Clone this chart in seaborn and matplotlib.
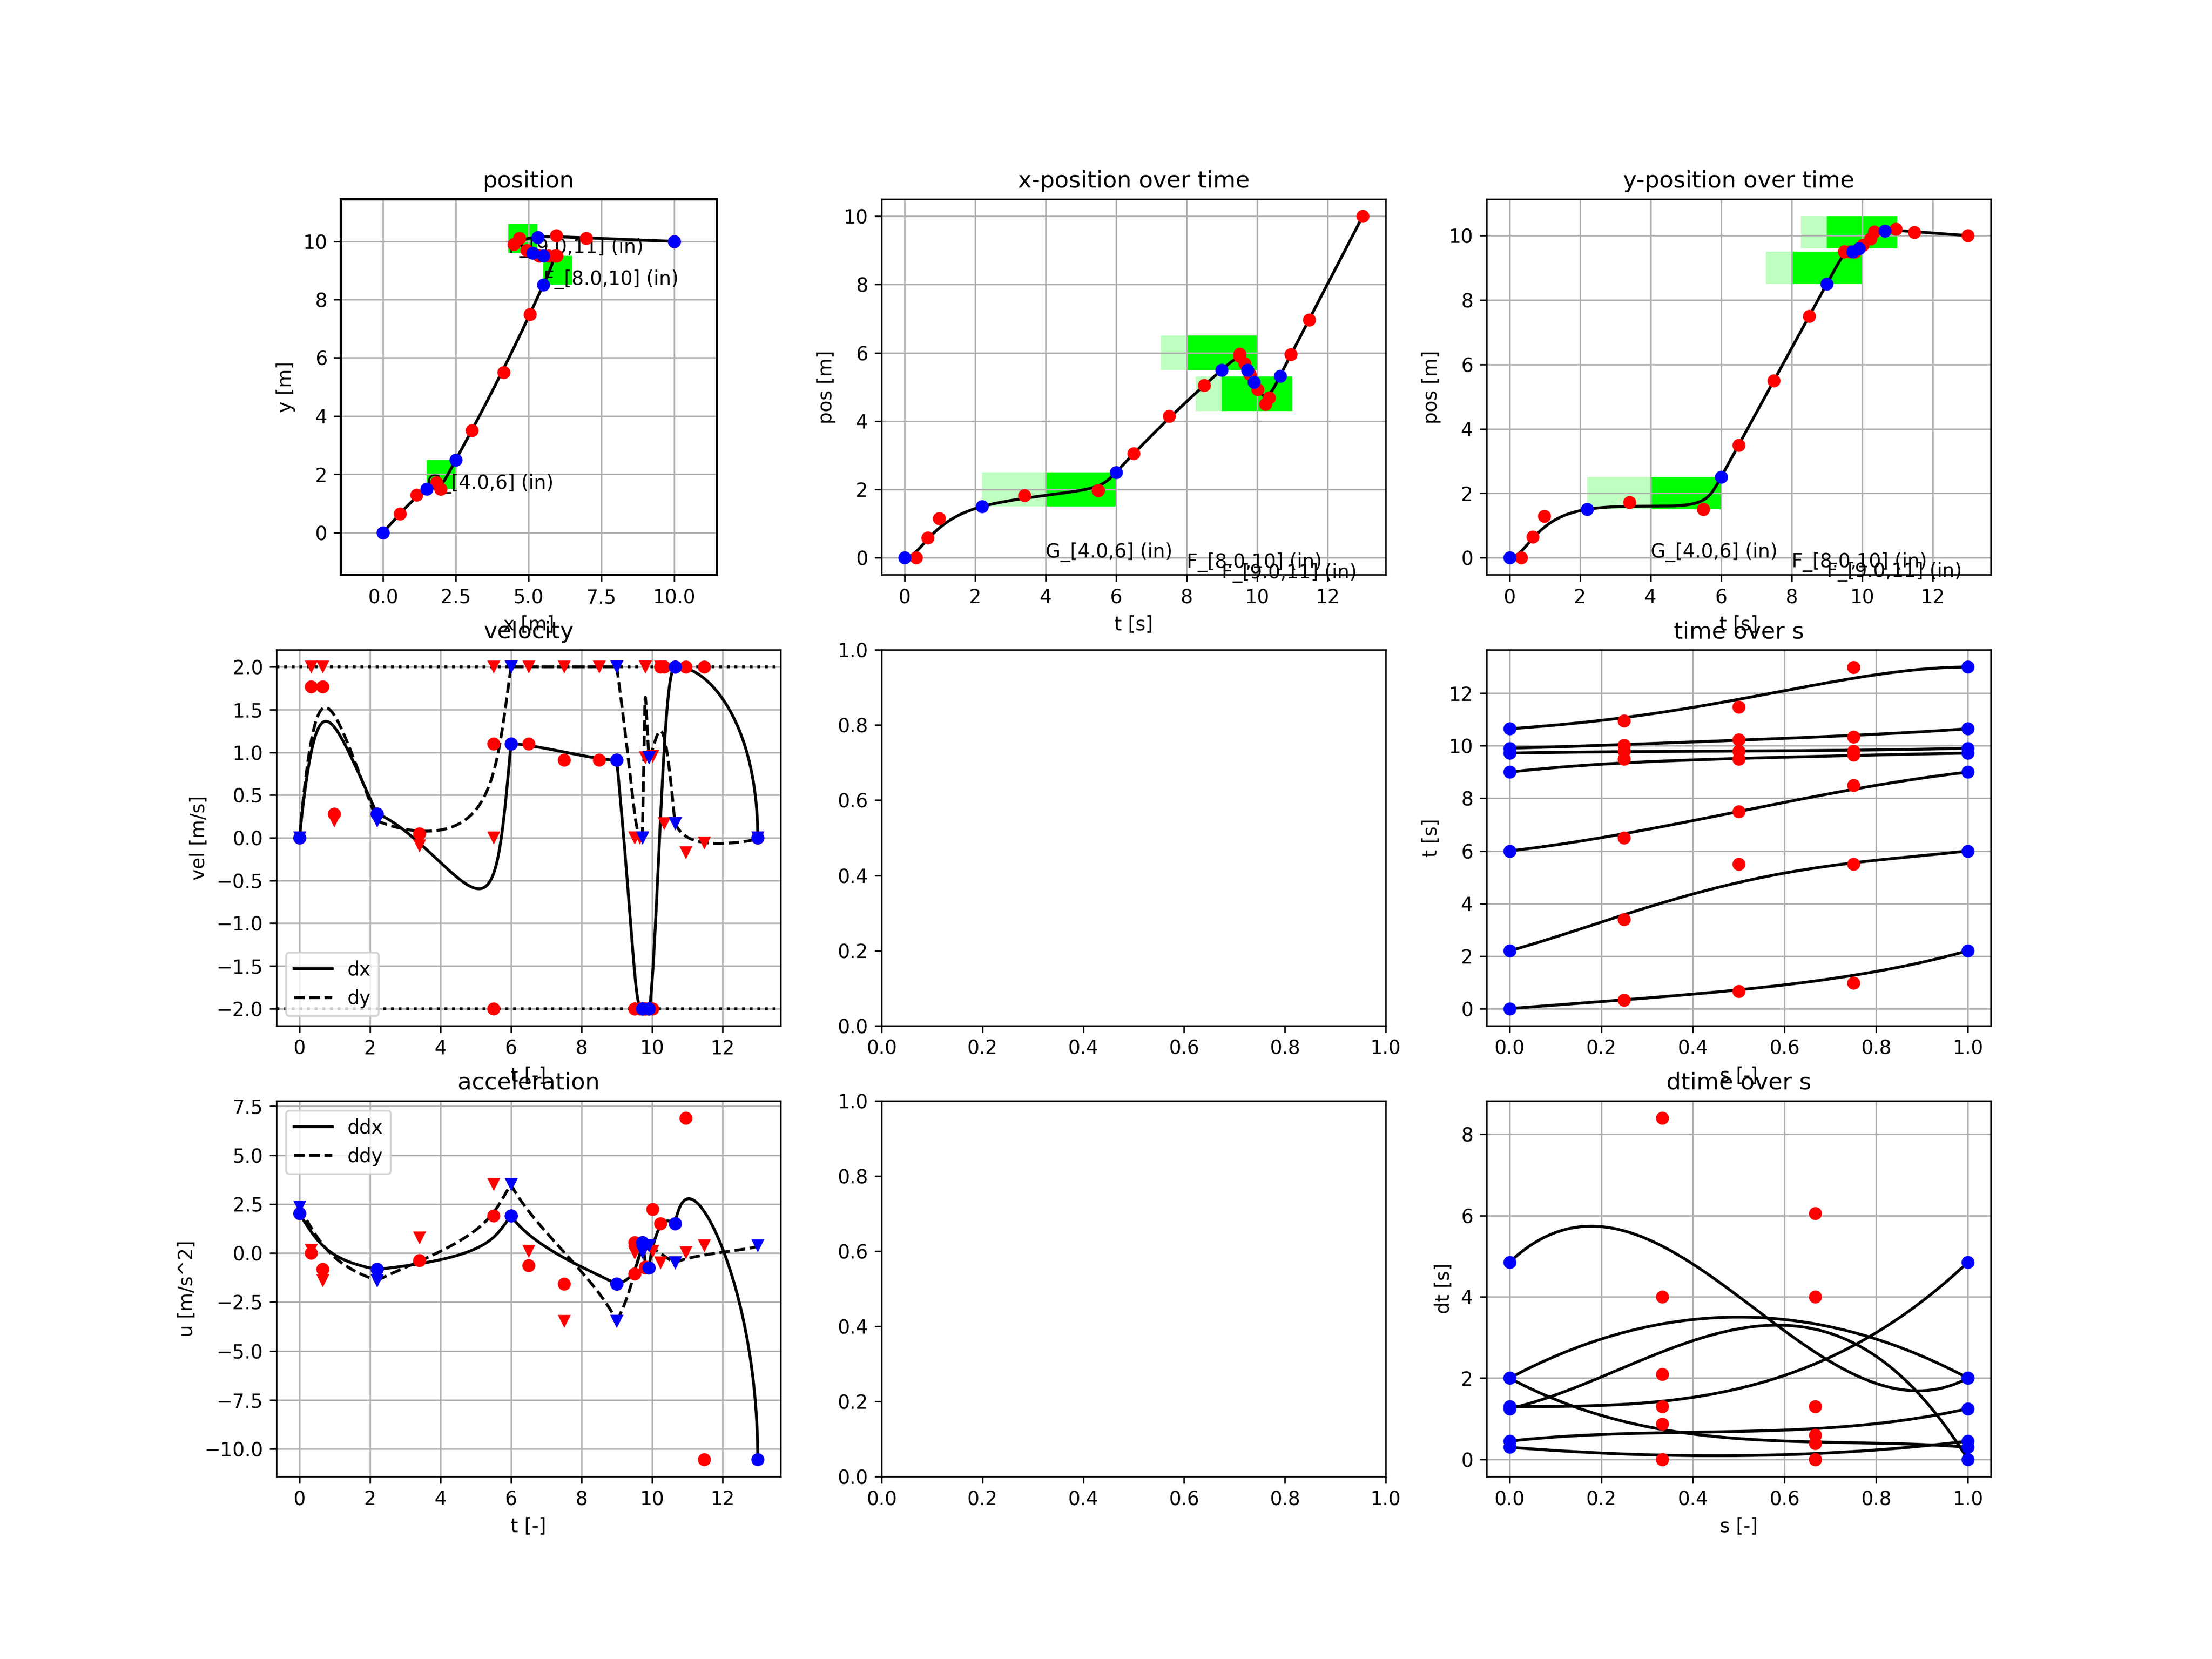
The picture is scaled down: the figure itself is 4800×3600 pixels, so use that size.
import numpy as np
import pandas as pd
import matplotlib
matplotlib.use("Agg")
import matplotlib.pyplot as plt
import seaborn as sns
from matplotlib.patches import Rectangle
from matplotlib.lines import Line2D
from math import comb

# ---------------- data (control points) ----------------
T_CTRL = [
    [0.0, 0.33, 0.66, 0.98, 2.2],
    [2.2, 3.4, 5.5, 5.5, 6.0],
    [6.0, 6.5, 7.5, 8.5, 9.0],
    [9.0, 9.5, 9.5, 9.65, 9.725],
    [9.725, 9.8, 9.8, 9.8, 9.91],
    [9.91, 10.02, 10.24, 10.34, 10.65],
    [10.65, 10.96, 11.48, 12.99, 13.0],
]
X_CTRL = [
    [0.0, 0.0, 0.58, 1.15, 1.5],
    [1.5, 1.83, 1.97, 1.97, 2.5],
    [2.5, 3.05, 4.14, 5.05, 5.5],
    [5.5, 5.97, 5.9, 5.68, 5.5],
    [5.5, 5.37, 5.37, 5.37, 5.14],
    [5.14, 4.93, 4.49, 4.68, 5.32],
    [5.32, 5.95, 6.97, 10.0, 10.0],
]
Y_CTRL = [
    [0.0, 0.0, 0.65, 1.29, 1.5],
    [1.5, 1.72, 1.5, 1.5, 2.5],
    [2.5, 3.5, 5.5, 7.5, 8.5],
    [8.5, 9.5, 9.5, 9.5, 9.5],
    [9.5, 9.5, 9.5, 9.5, 9.6],
    [9.6, 9.7, 9.9, 10.11, 10.14],
    [10.14, 10.2, 10.1, 10.0, 10.0],
]
DT_CTRL = [
    [1.3, 1.3, 1.3, 4.85],
    [4.85, 8.4, 0.0, 2.0],
    [2.0, 4.0, 4.0, 2.0],
    [2.0, 0.0, 0.6, 0.3],
    [0.3, 0.0, 0.0, 0.45],
    [0.45, 0.87, 0.4, 1.25],
    [1.25, 2.1, 6.05, 0.0],
]
VX_CTRL = [
    [0.0, 1.77, 1.77, 0.28],
    [0.28, 0.05, -2.0, 1.1],
    [1.1, 1.1, 0.91, 0.91],
    [0.91, -2.0, -2.0, -2.0],
    [-2.0, -2.0, -2.0, -2.0],
    [-2.0, -2.0, 2.0, 2.0],
    [2.0, 2.0, 2.0, 0.0],
]
VY_CTRL = [
    [0.0, 2.0, 2.0, 0.2],
    [0.2, -0.09, 0.0, 2.0],
    [2.0, 2.0, 2.0, 2.0],
    [2.0, 0.0, 0.0, 0.0],
    [0.0, 2.0, 2.0, 0.94],
    [0.94, 0.955, 2.0, 0.17],
    [0.17, -0.17, -0.06, 0.0],
]
AX_CTRL = [
    [2.03, 0.0, -0.83],
    [-0.83, -0.38, 1.9],
    [1.9, -0.63, -1.58],
    [-1.58, -1.06, 0.54],
    [0.54, -0.7, -0.76],
    [-0.76, 2.23, 1.5],
    [1.5, 6.9, -10.53],
]
AY_CTRL = [
    [2.36, 0.15, -1.4],
    [-1.4, 0.78, 3.5],
    [3.5, 0.1, -3.47],
    [-3.47, 0.0, 0.06],
    [0.06, 0.3, 0.38],
    [0.38, 0.1, -0.49],
    [-0.49, 0.02, 0.38],
]
VEL_LIMIT = [2.0, -2.0]

REGION_NAMES = ["G_[4.0,6] (in)", "F_[8.0,10] (in)", "F_[9.0,11] (in)"]
REGION_X = [(1.5, 2.5), (5.5, 6.5), (4.3, 5.3)]
REGION_Y = [(1.5, 2.5), (8.5, 9.5), (9.6, 10.6)]
REGION_T = [(4.0, 6.0), (8.0, 10.0), (9.0, 11.0)]
REGION_T_PRE = [2.2, 7.27, 8.27]
LABEL_Y = [0.0, -0.3, -0.6]

# ---------------- helpers ----------------
def bez(ctrl, s):
    n = len(ctrl) - 1
    return sum(comb(n, i) * s**i * (1 - s)**(n - i) * c for i, c in enumerate(ctrl))

S = np.linspace(0, 1, 300)
frames = []
for k in range(len(T_CTRL)):
    frames.append(pd.DataFrame({
        "seg": k, "s": S,
        "t": bez(T_CTRL[k], S), "x": bez(X_CTRL[k], S), "y": bez(Y_CTRL[k], S),
        "dt": bez(DT_CTRL[k], S),
        "vx": bez(VX_CTRL[k], S), "vy": bez(VY_CTRL[k], S),
        "ax": bez(AX_CTRL[k], S), "ay": bez(AY_CTRL[k], S),
    }))
curves = pd.concat(frames, ignore_index=True)

MS = 46
LIGHT = (0.0, 1.0, 0.0, 0.25)
LIME = (0.0, 1.0, 0.0, 1.0)


def curve(ax, xcol, ycol, ls="-"):
    sns.lineplot(data=curves, x=xcol, y=ycol, units="seg", estimator=None, sort=False,
                 color="k", linestyle=ls, linewidth=1.5, ax=ax, legend=False)


def dots(ax, xs, ys, color, marker="o"):
    sns.scatterplot(x=list(xs), y=list(ys), color=color, marker=marker, s=MS,
                    linewidth=0, ax=ax, zorder=3, legend=False)


fig, axs = plt.subplots(3, 3, figsize=(16, 12))

# ---------------- position ----------------
ax = axs[0, 0]
for i in range(len(REGION_NAMES)):
    (x0, x1), (y0, y1) = REGION_X[i], REGION_Y[i]
    ax.add_patch(Rectangle((x0, y0), x1 - x0, y1 - y0, facecolor=LIME, edgecolor="none"))
    ax.text(x0, y0, REGION_NAMES[i], fontsize=10)
curve(ax, "x", "y")
rx = [v for c in X_CTRL for v in c[1:-1]]
ry = [v for c in Y_CTRL for v in c[1:-1]]
dots(ax, rx, ry, "r")
bx = [c[0] for c in X_CTRL] + [X_CTRL[-1][-1]]
by = [c[0] for c in Y_CTRL] + [Y_CTRL[-1][-1]]
dots(ax, bx, by, "b")
ax.set_xlim(-1.45, 11.45)
ax.set_ylim(-1.45, 11.45)
ax.set_aspect("equal", adjustable="box")
ax.set_title("position")
ax.set_xlabel("x [m]")
ax.set_ylabel("y [m]")
for sp in ax.spines.values():
    sp.set_linewidth(1.2)

# ---------------- x / y position over time ----------------
for ax, col, ctrl, reg, title in [(axs[0, 1], "x", X_CTRL, REGION_X, "x-position over time"),
                                   (axs[0, 2], "y", Y_CTRL, REGION_Y, "y-position over time")]:
    for i in range(len(REGION_NAMES)):
        (lo, hi) = reg[i]
        (ta, tb) = REGION_T[i]
        ax.add_patch(Rectangle((REGION_T_PRE[i], lo), ta - REGION_T_PRE[i], hi - lo,
                               facecolor=LIGHT, edgecolor="none"))
        ax.add_patch(Rectangle((ta, lo), tb - ta, hi - lo, facecolor=LIME, edgecolor="none"))
        ax.text(ta, LABEL_Y[i], REGION_NAMES[i], fontsize=10)
    curve(ax, "t", col)
    dots(ax, [v for c in T_CTRL for v in c[1:-1]], [v for c in ctrl for v in c[1:-1]], "r")
    dots(ax, [c[0] for c in T_CTRL], [c[0] for c in ctrl], "b")
    ax.set_title(title)
    ax.set_xlabel("t [s]")
    ax.set_ylabel("pos [m]")

# ---------------- velocity ----------------
ax = axs[1, 0]
for lim in VEL_LIMIT:
    ax.axhline(lim, color="k", linestyle=":", linewidth=1.5)
curve(ax, "t", "vx", "-")
curve(ax, "t", "vy", "--")
tv = [v for c in T_CTRL for v in c[:4]]
dots(ax, tv, [v for c in VY_CTRL for v in c], "r", "v")
dots(ax, tv, [v for c in VX_CTRL for v in c], "r", "o")
tb_ = [c[0] for c in T_CTRL] + [c[-1] for c in T_CTRL]
dots(ax, tb_, [c[0] for c in VY_CTRL] + [c[-1] for c in VY_CTRL], "b", "v")
dots(ax, tb_, [c[0] for c in VX_CTRL] + [c[-1] for c in VX_CTRL], "b", "o")
ax.legend(handles=[Line2D([], [], color="k", ls="-", label="dx"),
                   Line2D([], [], color="k", ls="--", label="dy")], loc="lower left")
ax.set_title("velocity")
ax.set_xlabel("t [-]")
ax.set_ylabel("vel [m/s]")

# ---------------- acceleration ----------------
ax = axs[2, 0]
curve(ax, "t", "ax", "-")
curve(ax, "t", "ay", "--")
ta_ = [v for c in T_CTRL for v in c[:3]]
dots(ax, ta_, [v for c in AY_CTRL for v in c], "r", "v")
dots(ax, ta_, [v for c in AX_CTRL for v in c], "r", "o")
dots(ax, tb_, [c[0] for c in AY_CTRL] + [c[-1] for c in AY_CTRL], "b", "v")
dots(ax, tb_, [c[0] for c in AX_CTRL] + [c[-1] for c in AX_CTRL], "b", "o")
ax.legend(handles=[Line2D([], [], color="k", ls="-", label="ddx"),
                   Line2D([], [], color="k", ls="--", label="ddy")], loc="upper left")
ax.set_title("acceleration")
ax.set_xlabel("t [-]")
ax.set_ylabel("u [m/s^2]")

# ---------------- time over s ----------------
ax = axs[1, 2]
curve(ax, "s", "t")
S_T = [0.25, 0.5, 0.75]
dots(ax, S_T * len(T_CTRL), [v for c in T_CTRL for v in c[1:-1]], "r")
dots(ax, [0.0] * len(T_CTRL) + [1.0] * len(T_CTRL),
     [c[0] for c in T_CTRL] + [c[-1] for c in T_CTRL], "b")
ax.set_title("time over s")
ax.set_xlabel("s [-]")
ax.set_ylabel("t [s]")

# ---------------- dtime over s ----------------
ax = axs[2, 2]
curve(ax, "s", "dt")
S_DT = [1 / 3, 2 / 3]
dots(ax, S_DT * len(DT_CTRL), [v for c in DT_CTRL for v in c[1:-1]], "r")
dots(ax, [0.0] * len(DT_CTRL) + [1.0] * len(DT_CTRL),
     [c[0] for c in DT_CTRL] + [c[-1] for c in DT_CTRL], "b")
ax.set_title("dtime over s")
ax.set_xlabel("s [-]")
ax.set_ylabel("dt [s]")

for a in [axs[0, 0], axs[0, 1], axs[0, 2], axs[1, 0], axs[1, 2], axs[2, 0], axs[2, 2]]:
    a.grid(True)

fig.savefig("out.png", dpi=300)
